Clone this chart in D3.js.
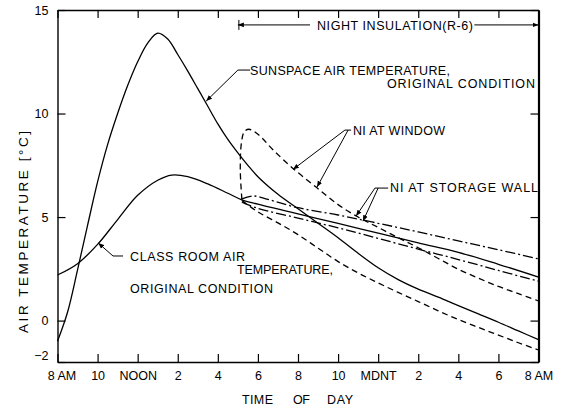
<!DOCTYPE html>
<html>
<head>
<meta charset="utf-8">
<script src="https://cdn.jsdelivr.net/npm/d3@7/dist/d3.min.js"></script>
<style>
  body { margin: 0; background: #fff; }
  svg { font-family: "Liberation Sans", Arial, sans-serif; }
  .curve { fill: none; stroke: #000; stroke-width: 1.3px; }
  .lead { fill: none; stroke: #000; stroke-width: 1px; }
  .lbl { font-size: 12.5px; fill: #000; }
</style>
</head>
<body>
<div id="chart"></div>
<script>
// time axis in hours counted from 8 AM
const xTickHours = [0, 2, 4, 6, 8, 10, 12, 14, 16, 18, 20, 22, 24];
const xTickLabels = ["8 AM", "10", "NOON", "2", "4", "6", "8", "10", "MDNT", "2", "4", "6", "8 AM"];
const yTickValues = [15, 10, 5, 0, -2];

// sunspace air temperature, original condition
const sunspaceHours = [0, 0.5, 1, 1.5, 2, 2.5, 3, 3.5, 4, 4.5, 5, 5.5, 6, 6.5, 7, 7.5, 8, 8.5, 9, 9.5, 10,
    11, 12, 13, 14, 15, 16, 17, 18, 19, 20, 21, 22, 23, 24];
const sunspaceTemp = [-1.0, 0.4, 2.45, 4.6, 6.7, 8.5, 10.0, 11.35, 12.5, 13.4, 13.88, 13.6, 12.85, 12.05, 11.2, 10.35, 9.5, 8.75, 8.1, 7.5, 6.95,
    6.1, 5.4, 4.7, 4.0, 3.25, 2.55, 1.98, 1.52, 1.13, 0.72, 0.32, -0.08, -0.5, -0.92];

// class room air temperature, original condition
const classHours = [0, 1, 2, 3, 4, 5, 5.7, 6.5, 7.5, 8.5, 9.2, 10, 12, 14, 16, 18, 20, 22, 24];
const classTemp = [2.2, 2.75, 3.68, 4.88, 6.05, 6.78, 7.03, 6.95, 6.6, 6.15, 5.83, 5.62, 5.15, 4.7, 4.22, 3.75, 3.3, 2.72, 2.1];

// NI at window (dashed)
const windowUpperHours = [9.2, 9.12, 9.18, 9.32, 9.55, 10, 10.75, 11.75, 12.9, 14, 15, 16, 17, 18, 19, 20, 21, 22, 23, 24];
const windowUpperTemp = [5.85, 7.3, 8.6, 9.12, 9.24, 9.0, 8.25, 7.35, 6.45, 5.6, 5.0, 4.5, 4.0, 3.52, 3.0, 2.48, 2.05, 1.65, 1.3, 0.95];
const windowLowerHours = [9.2, 10, 11, 12, 13, 14, 15, 16, 17, 18, 19, 20, 21, 22, 23, 24];
const windowLowerTemp = [5.8, 5.25, 4.72, 4.15, 3.5, 2.85, 2.3, 1.82, 1.36, 0.92, 0.47, 0.05, -0.33, -0.7, -1.07, -1.42];

// NI at storage wall (dash-dot)
const storageUpperHours = [9.2, 9.75, 10.5, 12, 14, 16, 18, 20, 22, 24];
const storageUpperTemp = [5.88, 6.02, 5.85, 5.45, 5.1, 4.7, 4.28, 3.85, 3.42, 2.98];
const storageLowerHours = [9.2, 10, 12, 14, 16, 18, 20, 22, 24];
const storageLowerTemp = [5.72, 5.42, 4.95, 4.48, 3.97, 3.45, 2.95, 2.42, 1.9];

// night insulation period
const insulationStart = 9;
const insulationEnd = 24;

const width = 567, height = 409;
const svg = d3.select("#chart").append("svg")
    .attr("width", width)
    .attr("height", height);

const x = d3.scaleLinear().domain([0, 24]).range([57.5, 538.5]);
const y = d3.scaleLinear().domain([-2, 15]).range([362, 10]);

const defs = svg.append("defs");
defs.append("marker")
    .attr("id", "arrow")
    .attr("viewBox", "0 0 10 10")
    .attr("refX", 10).attr("refY", 5)
    .attr("markerWidth", 6).attr("markerHeight", 6)
    .attr("markerUnits", "userSpaceOnUse")
    .attr("orient", "auto")
    .append("path")
    .attr("d", "M0,1 L10,5 L0,9 Z")
    .attr("fill", "#000");

// axes
const axisBottomG = svg.append("g")
    .attr("transform", `translate(0,${y(-2)})`)
    .call(d3.axisBottom(x).tickValues(xTickHours)
        .tickFormat((d, i) => xTickLabels[i])
        .tickSizeInner(-8).tickSizeOuter(0).tickPadding(9));

const axisTopG = svg.append("g")
    .attr("transform", `translate(0,${y(15)})`)
    .call(d3.axisTop(x).tickValues(xTickHours).tickFormat("")
        .tickSizeInner(-8).tickSizeOuter(0));

const axisLeftG = svg.append("g")
    .attr("transform", `translate(${x(0)},0)`)
    .call(d3.axisLeft(y).tickValues(yTickValues)
        .tickSizeInner(-8).tickSizeOuter(0).tickPadding(9));

const axisRightG = svg.append("g")
    .attr("transform", `translate(${x(24)},0)`)
    .call(d3.axisRight(y).tickValues(yTickValues).tickFormat("")
        .tickSizeInner(-8).tickSizeOuter(0));

[axisBottomG, axisTopG, axisLeftG, axisRightG].forEach(g => {
    g.selectAll("path.domain").attr("stroke", "#000").attr("stroke-width", 1.4);
    g.selectAll(".tick line").attr("stroke", "#000").attr("stroke-width", 1.2);
    g.selectAll(".tick text").attr("font-size", 12.5)
        .attr("font-family", "Liberation Sans, Arial, sans-serif").attr("fill", "#000");
});
axisRightG.select("path.domain").attr("stroke-width", 2.2);
axisBottomG.selectAll(".tick text").filter((d, i) => i === 0).attr("dx", 4);
axisLeftG.selectAll(".tick text").filter(d => d === -2).attr("dy", "-0.2em");

// curves
const line = d3.line()
    .x(d => x(d[0]))
    .y(d => y(d[1]))
    .curve(d3.curveCatmullRom.alpha(0.5));

const series = [
    { hours: sunspaceHours, temps: sunspaceTemp, dash: null },
    { hours: classHours, temps: classTemp, dash: null },
    { hours: windowUpperHours, temps: windowUpperTemp, dash: "6,4" },
    { hours: windowLowerHours, temps: windowLowerTemp, dash: "6,4" },
    { hours: storageUpperHours, temps: storageUpperTemp, dash: "10,3,2,3" },
    { hours: storageLowerHours, temps: storageLowerTemp, dash: "10,3,2,3" }
];

svg.selectAll(".curve")
    .data(series)
    .enter().append("path")
    .attr("class", "curve")
    .attr("d", s => line(s.hours.map((h, i) => [h, s.temps[i]])))
    .attr("stroke-dasharray", s => s.dash);

// labels
function label(txt, px, py, len, anchor) {
    svg.append("text")
        .attr("class", "lbl")
        .attr("x", px).attr("y", py)
        .attr("text-anchor", anchor || "start")
        .attr("textLength", len)
        .attr("lengthAdjust", "spacing")
        .text(txt);
}

function leader(points, arrow) {
    const p = svg.append("path")
        .attr("class", "lead")
        .attr("d", d3.line()(points.map(d => [x(d[0]), y(d[1])])));
    if (arrow) p.attr("marker-end", "url(#arrow)");
}

// sunspace label
label("SUNSPACE AIR TEMPERATURE,", 250, 75, 200);
label("ORIGINAL CONDITION", 387, 88, 148);
leader([[9.61, 12.1], [9.0, 12.1], [7.42, 10.6]], true);

// class room label
label("CLASS ROOM AIR", 130, 261, 115);
label("TEMPERATURE,", 237, 274, 96);
label("ORIGINAL CONDITION", 130, 293, 143);
leader([[3.27, 3.12], [2.77, 3.12], [2.03, 3.75]], true);

// NI at window
label("NI AT WINDOW", 353, 135, 92);
leader([[14.65, 9.2], [14.34, 9.2], [11.75, 7.3]], true);
leader([[14.5, 9.2], [12.95, 6.45]], true);

// NI at storage wall
label("NI AT STORAGE WALL", 390, 192, 148);
leader([[16.5, 6.4], [15.84, 6.4], [14.9, 5.05]], true);
leader([[16.0, 6.4], [15.24, 4.8]], true);

// night insulation bracket
const brY = 14.28;
label("NIGHT INSULATION(R-6)", 317, 30, 156);
leader([[insulationStart + 3.6, brY], [insulationStart, brY]], true);
leader([[insulationEnd - 3.2, brY], [insulationEnd, brY]], true);
svg.append("line").attr("class", "lead")
    .attr("x1", x(insulationStart) + 1).attr("x2", x(insulationStart) + 1)
    .attr("y1", y(brY) - 5).attr("y2", y(brY) + 5);

// axis titles
svg.append("text").attr("class", "lbl")
    .attr("transform", "translate(28,232) rotate(-90)")
    .attr("text-anchor", "middle")
    .style("font-size", "13.5px")
    .attr("textLength", 202).attr("lengthAdjust", "spacing")
    .text("AIR  TEMPERATURE [°C]");

label("TIME", 242, 404, 31);
label("OF", 293, 404, 17);
label("DAY", 327, 404, 26);
</script>
</body>
</html>
